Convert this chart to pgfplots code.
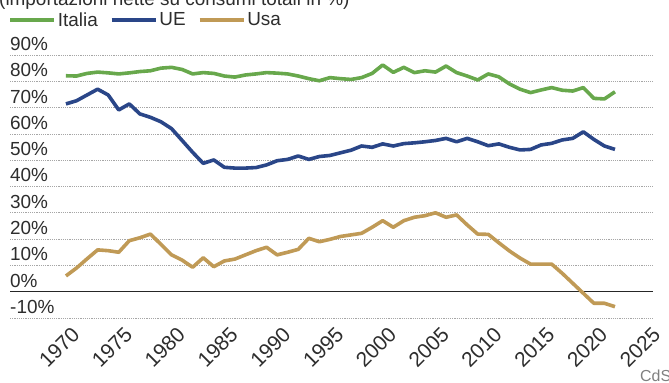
\documentclass[border=0pt]{standalone}
\usepackage{fontspec}
\setmainfont{Liberation Sans}
\usepackage{pgfplots}
\usepackage{pgfplotstable}
\pgfplotsset{compat=1.18}

\definecolor{itgreen}{RGB}{104,168,76}
\definecolor{ueblue}{RGB}{42,70,136}
\definecolor{usagold}{RGB}{192,154,86}
\definecolor{labelgray}{RGB}{45,45,45}

% Importazioni nette su consumi totali di energia (%)
\pgfplotstableread{
year ita ue usa
1970 82.1 71.4 6.0
1971 82.0 72.6 9.0
1972 83.0 74.8 12.5
1973 83.5 77.0 15.9
1974 83.2 74.8 15.6
1975 82.8 69.1 15.0
1976 83.2 71.4 19.4
1977 83.7 67.6 20.5
1978 84.0 66.3 21.9
1979 85.0 64.6 18.0
1980 85.3 62.0 14.0
1981 84.5 57.5 12.0
1982 82.8 53.0 9.3
1983 83.3 48.8 12.9
1984 83.0 50.1 9.5
1985 82.0 47.3 11.7
1986 81.6 47.0 12.4
1987 82.4 47.0 14.0
1988 82.8 47.2 15.6
1989 83.3 48.2 16.9
1990 83.1 49.8 14.0
1991 82.8 50.3 15.0
1992 82.0 51.6 16.1
1993 81.0 50.3 20.3
1994 80.2 51.4 19.0
1995 81.4 51.8 19.9
1996 81.0 52.8 21.0
1997 80.7 53.8 21.6
1998 81.4 55.4 22.2
1999 83.0 54.9 24.5
2000 86.2 56.2 27.0
2001 83.4 55.4 24.5
2002 85.3 56.3 27.0
2003 83.3 56.6 28.3
2004 84.0 57.0 28.9
2005 83.5 57.5 30.0
2006 85.8 58.3 28.3
2007 83.3 57.0 29.2
2008 82.0 58.3 25.4
2009 80.5 57.0 21.9
2010 82.8 55.5 21.8
2011 81.7 56.2 18.6
2012 79.0 54.9 15.5
2013 77.0 53.9 12.8
2014 75.7 54.1 10.5
2015 76.7 55.8 10.5
2016 77.6 56.4 10.5
2017 76.6 57.7 7.0
2018 76.3 58.3 3.2
2019 77.6 60.8 -0.6
2020 73.5 57.9 -4.4
2021 73.3 55.4 -4.4
2022 76.0 54.1 -5.7
}\energy

\begin{document}
\begin{tikzpicture}
\useasboundingbox (0,0) rectangle (669bp,383bp);
\clip (0,0) rectangle (669bp,383bp);
\node[anchor=base west, inner sep=0pt, font=\fontsize{19}{22}\selectfont, text=labelgray]
  at (-1bp,377bp) {(importazioni nette su consumi totali in \%)};
\node[anchor=base west, inner sep=0pt, font=\fontsize{16}{18}\selectfont, text=gray]
  at (640bp,2bp) {CdS};
\begin{axis}[
  at={(10bp,65bp)}, anchor=south west,
  scale only axis, width=643bp, height=263bp,
  xmin=1964.7, xmax=2025.6, ymin=-10, ymax=90,
  axis line style={draw=none},
  major tick length=0pt,
  clip=false,
  xtick={1970,1975,...,2025},
  ytick={-10,0,...,90},
  yticklabels={-10\%,0\%,10\%,20\%,30\%,40\%,50\%,60\%,70\%,80\%,90\%},
  ymajorgrids,
  grid style={gray!70, line width=0.6bp, dash pattern=on 1.2bp off 1bp},
  /pgf/number format/assume math mode=true,
  ticklabel style={font=\fontsize{19}{22}\selectfont, text=labelgray},
  xticklabel style={/pgf/number format/1000 sep={}, rotate=45, anchor=east,
    font=\fontsize{21}{23}\selectfont, inner sep=0pt, xshift=-2bp, yshift=-16bp},
  yticklabel style={anchor=base west, inner sep=0pt, yshift=4.5bp},
  legend style={at={(-0.003,1.133)}, anchor=west, draw=none, fill=none,
    inner sep=0pt, font=\fontsize{19}{22}\selectfont, text=labelgray,
    /tikz/every even column/.append style={column sep=10bp}},
  legend columns=3,
  legend image code/.code={\draw[#1] (0bp,0bp) -- (44bp,0bp);},
]
\draw[black!85, line width=1.6bp] (1964.7,0) -- (2025.6,0);
\addplot[itgreen, line width=3.6bp, line join=round] table[x=year, y=ita] {\energy};
\addlegendentry{Italia}
\addplot[ueblue, line width=3.6bp, line join=round] table[x=year, y=ue] {\energy};
\addlegendentry{UE}
\addplot[usagold, line width=3.6bp, line join=round] table[x=year, y=usa] {\energy};
\addlegendentry{Usa}
\end{axis}
\end{tikzpicture}
\end{document}
